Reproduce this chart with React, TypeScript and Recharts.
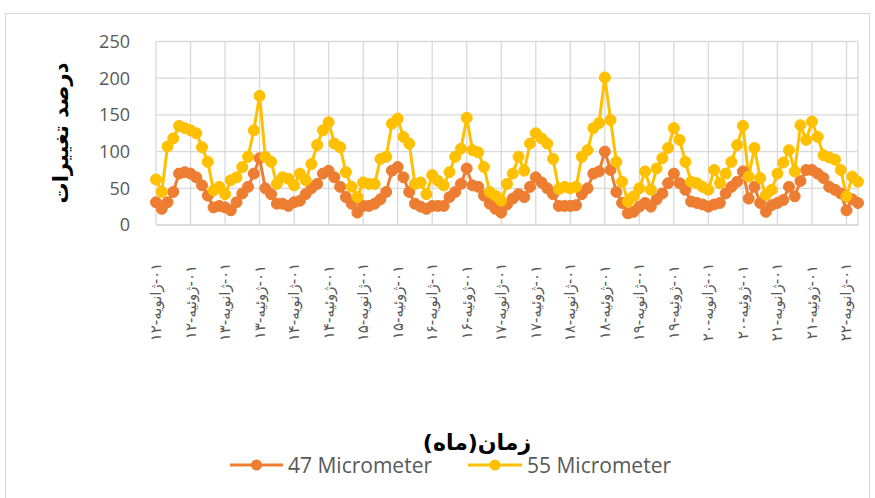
import React from "react"
import { LineChart, Line, XAxis, YAxis, CartesianGrid } from "recharts"

// months since Jan 2012 that carry a label
const tickMonths = [0, 6, 12, 18, 24, 30, 36, 42, 48, 54, 60, 66, 72, 78, 84, 90, 96, 102, 108, 114, 120]

const tickLabels = [
    "۰۱-ژانویه-۱۲", "۰۱-ژوئیه-۱۲",
    "۰۱-ژانویه-۱۳", "۰۱-ژوئیه-۱۳",
    "۰۱-ژانویه-۱۴", "۰۱-ژوئیه-۱۴",
    "۰۱-ژانویه-۱۵", "۰۱-ژوئیه-۱۵",
    "۰۱-ژانویه-۱۶", "۰۱-ژوئیه-۱۶",
    "۰۱-ژانویه-۱۷", "۰۱-ژوئیه-۱۷",
    "۰۱-ژانویه-۱۸", "۰۱-ژوئیه-۱۸",
    "۰۱-ژانویه-۱۹", "۰۱-ژوئیه-۱۹",
    "۰۱-ژانویه-۲۰", "۰۱-ژوئیه-۲۰",
    "۰۱-ژانویه-۲۱", "۰۱-ژوئیه-۲۱",
    "۰۱-ژانویه-۲۲",
]

const yTicks = [0, 50, 100, 150, 200, 250]

const micro47 = [
    31, 22, 31, 45, 70, 72, 70, 65, 54, 40, 24, 26,
    24, 20, 31, 43, 52, 70, 91, 50, 42, 29, 29, 26,
    31, 33, 42, 50, 56, 70, 74, 65, 52, 38, 29, 17,
    26, 26, 29, 35, 45, 74, 79, 65, 45, 29, 25, 22,
    26, 26, 26, 38, 45, 56, 77, 54, 52, 40, 29, 22,
    17, 28, 36, 42, 38, 52, 65, 58, 50, 42, 26, 26,
    26, 27, 42, 50, 70, 73, 100, 75, 45, 30, 16, 18,
    25, 30, 25, 35, 43, 57, 70, 57, 48, 32, 30, 28,
    25, 28, 30, 43, 52, 59, 73, 36, 52, 30, 18, 27,
    30, 34, 52, 39, 60, 75, 75, 70, 64, 52, 48, 43,
    20, 35, 30,
]

const micro55 = [
    62, 45, 107, 118, 135, 132, 129, 125, 106, 86, 47, 52,
    42, 61, 65, 79, 93, 129, 176, 93, 86, 56, 65, 63,
    54, 70, 61, 83, 109, 129, 140, 111, 106, 72, 52, 38,
    58, 56, 56, 90, 93, 138, 145, 120, 111, 56, 58, 42,
    68, 60, 54, 72, 93, 104, 146, 102, 99, 79, 45, 40,
    33, 56, 70, 93, 74, 111, 125, 118, 111, 90, 49, 52,
    50, 52, 93, 102, 132, 139, 201, 143, 86, 59, 32, 39,
    50, 73, 48, 77, 91, 105, 132, 116, 86, 59, 57, 52,
    48, 75, 57, 70, 86, 109, 135, 66, 105, 64, 41, 48,
    70, 85, 102, 73, 136, 116, 141, 120, 95, 92, 89, 75,
    39, 66, 59,
]

const data = micro47.map((v, i) => ({ month: i, m47: v, m55: micro55[i] }))

const ORANGE = "#ED7D31"
const YELLOW = "#FFC000"
const GRID = "#d9d9d9"
const TEXT = "#595959"

function MonthTick(props: any) {
    const { x, y, payload } = props
    const label = tickLabels[tickMonths.indexOf(payload.value)]
    return (
        <text
            transform={`translate(${x},${y + 69}) rotate(-90)`}
            textAnchor="middle"
            dominantBaseline="central"
            direction="rtl"
            fontFamily="DejaVu Sans"
            fontSize={15}
            letterSpacing={2.4}
            fill={TEXT}
        >
            {label}
        </text>
    )
}

export default function App() {
    return (
        <div style={{ position: "absolute", left: 0, top: 0, width: 875, height: 498, background: "#fff" }}>
            <LineChart
                width={875}
                height={498}
                data={data}
                margin={{ top: 41.5, right: 17, bottom: 0, left: 0 }}
            >
                <CartesianGrid stroke={GRID} strokeWidth={1.3} />
                <XAxis
                    dataKey="month"
                    type="number"
                    domain={[0, 122]}
                    ticks={tickMonths}
                    interval={0}
                    height={273}
                    tick={<MonthTick />}
                    tickLine={false}
                    axisLine={{ stroke: GRID, strokeWidth: 1.3 }}
                />
                <YAxis
                    domain={[0, 250]}
                    ticks={yTicks}
                    width={156}
                    tickLine={false}
                    tickSize={0}
                    tickMargin={26}
                    axisLine={false}
                    tick={{ fill: TEXT, fontSize: 18, fontFamily: "Open Sans" }}
                />
                <Line
                    type="linear"
                    dataKey="m47"
                    name="47 Micrometer"
                    stroke={ORANGE}
                    strokeWidth={3}
                    dot={{ r: 5.5, fill: ORANGE, stroke: ORANGE, strokeWidth: 1 }}
                    isAnimationActive={false}
                />
                <Line
                    type="linear"
                    dataKey="m55"
                    name="55 Micrometer"
                    stroke={YELLOW}
                    strokeWidth={3}
                    dot={{ r: 5.5, fill: YELLOW, stroke: YELLOW, strokeWidth: 1 }}
                    isAnimationActive={false}
                />
            </LineChart>
            <svg
                width={875}
                height={498}
                style={{ position: "absolute", left: 0, top: 0, pointerEvents: "none" }}
            >
                <rect x={5.5} y={13.5} width={864} height={500} fill="none" stroke={GRID} strokeWidth={1} />
                <text
                    transform="translate(61,133) rotate(-90)"
                    textAnchor="middle"
                    dominantBaseline="central"
                    direction="rtl"
                    fontFamily="DejaVu Sans"
                    fontWeight="bold"
                    fontSize={21}
                    fill="#000"
                >
                    درصد تغییرات
                </text>
                <text
                    x={477}
                    y={442}
                    textAnchor="middle"
                    dominantBaseline="central"
                    direction="rtl"
                    fontFamily="DejaVu Sans"
                    fontWeight="bold"
                    fontSize={22}
                    fill="#000"
                >
                    زمان(ماه)
                </text>
                <line x1={230} y1={465} x2={283} y2={465} stroke={ORANGE} strokeWidth={3} />
                <circle cx={256.5} cy={465} r={5.5} fill={ORANGE} />
                <text x={288} y={473} fontFamily="Open Sans" fontSize={21} fill={TEXT}>47 Micrometer</text>
                <line x1={468} y1={465} x2={522} y2={465} stroke={YELLOW} strokeWidth={3} />
                <circle cx={495} cy={465} r={5.5} fill={YELLOW} />
                <text x={527} y={473} fontFamily="Open Sans" fontSize={21} fill={TEXT}>55 Micrometer</text>
            </svg>
        </div>
    )
}
